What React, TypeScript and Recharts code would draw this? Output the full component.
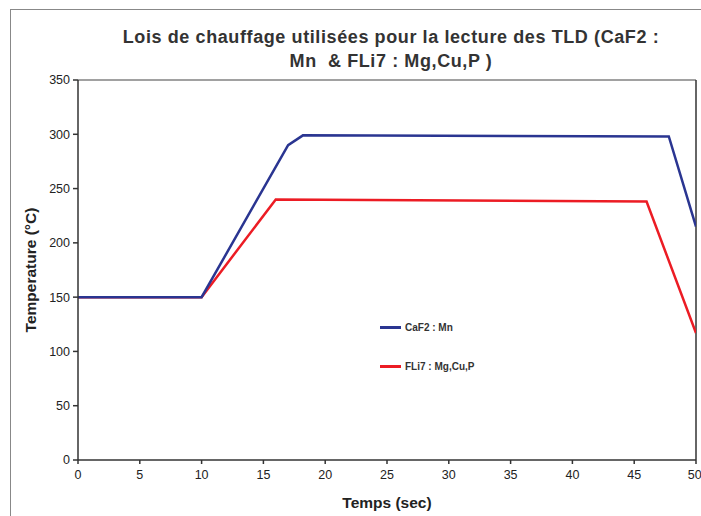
import React from "react";
import { LineChart, Line, XAxis, YAxis, ReferenceLine, Legend, Label } from "recharts";

// lois de chauffage (temps en s, température en °C)
const caf2Time = [0, 10, 17, 18.2, 47.8, 50];
const caf2Temp = [150, 150, 290, 299, 298, 215];
const fli7Time = [0, 10, 16, 46, 50];
const fli7Temp = [150, 150, 240, 238, 117];

const xTicks = [0, 5, 10, 15, 20, 25, 30, 35, 40, 45, 50];
const yTicks = [0, 50, 100, 150, 200, 250, 300, 350];

const caf2Data = caf2Time.map((t, i) => ({ t, temp: caf2Temp[i] }));
const fli7Data = fli7Time.map((t, i) => ({ t, temp: fli7Temp[i] }));

const FONT = "'Liberation Sans', Arial, sans-serif";
const BLUE = "#2a3591";
const RED = "#ec1c24";

const legendItems = [
  { label: "CaF2 : Mn", color: BLUE },
  { label: "FLi7 : Mg,Cu,P", color: RED },
];

function LegendBox() {
  return (
    <div style={{ fontFamily: FONT, fontSize: 10, fontWeight: "bold", color: "#333" }}>
      {legendItems.map((it) => (
        <div key={it.label} style={{ display: "flex", alignItems: "center", height: 39 }}>
          <span style={{ display: "inline-block", width: 21, height: 2.5, background: it.color, marginRight: 4 }} />
          {it.label}
        </div>
      ))}
    </div>
  );
}

export default function App() {
  return (
    <div style={{ position: "absolute", left: 0, top: 0, width: 701, height: 516, background: "#fff" }}>
      <div style={{ position: "absolute", left: 10, top: 9, width: 691, height: 507, borderLeft: "1px solid #888", borderTop: "1px solid #888" }} />
      <div
        style={{
          position: "absolute",
          left: 0,
          top: 25,
          width: 782,
          textAlign: "center",
          fontFamily: FONT,
          fontWeight: "bold",
          fontSize: 18,
          letterSpacing: 0.6,
          lineHeight: "24px",
          color: "#333",
        }}
      >
        Lois de chauffage utilisées pour la lecture des TLD (CaF2 :
        <br />
        Mn &nbsp;&amp; FLi7 : Mg,Cu,P )
      </div>
      <LineChart width={701} height={516} margin={{ top: 80, right: 5, bottom: 26, left: 28 }}>
        <XAxis
          dataKey="t"
          type="number"
          domain={[0, 50]}
          ticks={xTicks}
          allowDataOverflow
          tickSize={4}
          tickMargin={6}
          stroke="#333"
          strokeWidth={1.5}
          height={30}
          tick={{ fill: "#222", fontSize: 12.5, fontFamily: FONT }}
        >
          <Label value="Temps (sec)" position="insideBottom" offset={-18} style={{ fontFamily: FONT, fontWeight: "bold", fontSize: 15.5, fill: "#222" }} />
        </XAxis>
        <YAxis
          type="number"
          domain={[0, 350]}
          ticks={yTicks}
          tickSize={5}
          tickMargin={3}
          width={50}
          stroke="#333"
          strokeWidth={1.5}
          tick={{ fill: "#222", fontSize: 12.5, fontFamily: FONT }}
        >
          <Label
            value="Temperature (°C)"
            angle={-90}
            position="insideLeft"
            offset={2}
            style={{ textAnchor: "middle", fontFamily: FONT, fontWeight: "bold", fontSize: 15.5, fill: "#222" }}
          />
        </YAxis>
        <ReferenceLine y={350} stroke="#444" strokeWidth={1.2} />
        <ReferenceLine x={50} stroke="#333" strokeWidth={1.5} />
        <Legend
          layout="vertical"
          verticalAlign="middle"
          align="center"
          wrapperStyle={{ left: 380, top: 308, width: 160 }}
          content={() => <LegendBox />}
        />
        <Line data={fli7Data} dataKey="temp" name="FLi7 : Mg,Cu,P" stroke={RED} strokeWidth={2.5} dot={false} isAnimationActive={false} />
        <Line data={caf2Data} dataKey="temp" name="CaF2 : Mn" stroke={BLUE} strokeWidth={2.5} dot={false} isAnimationActive={false} />
      </LineChart>
    </div>
  );
}
